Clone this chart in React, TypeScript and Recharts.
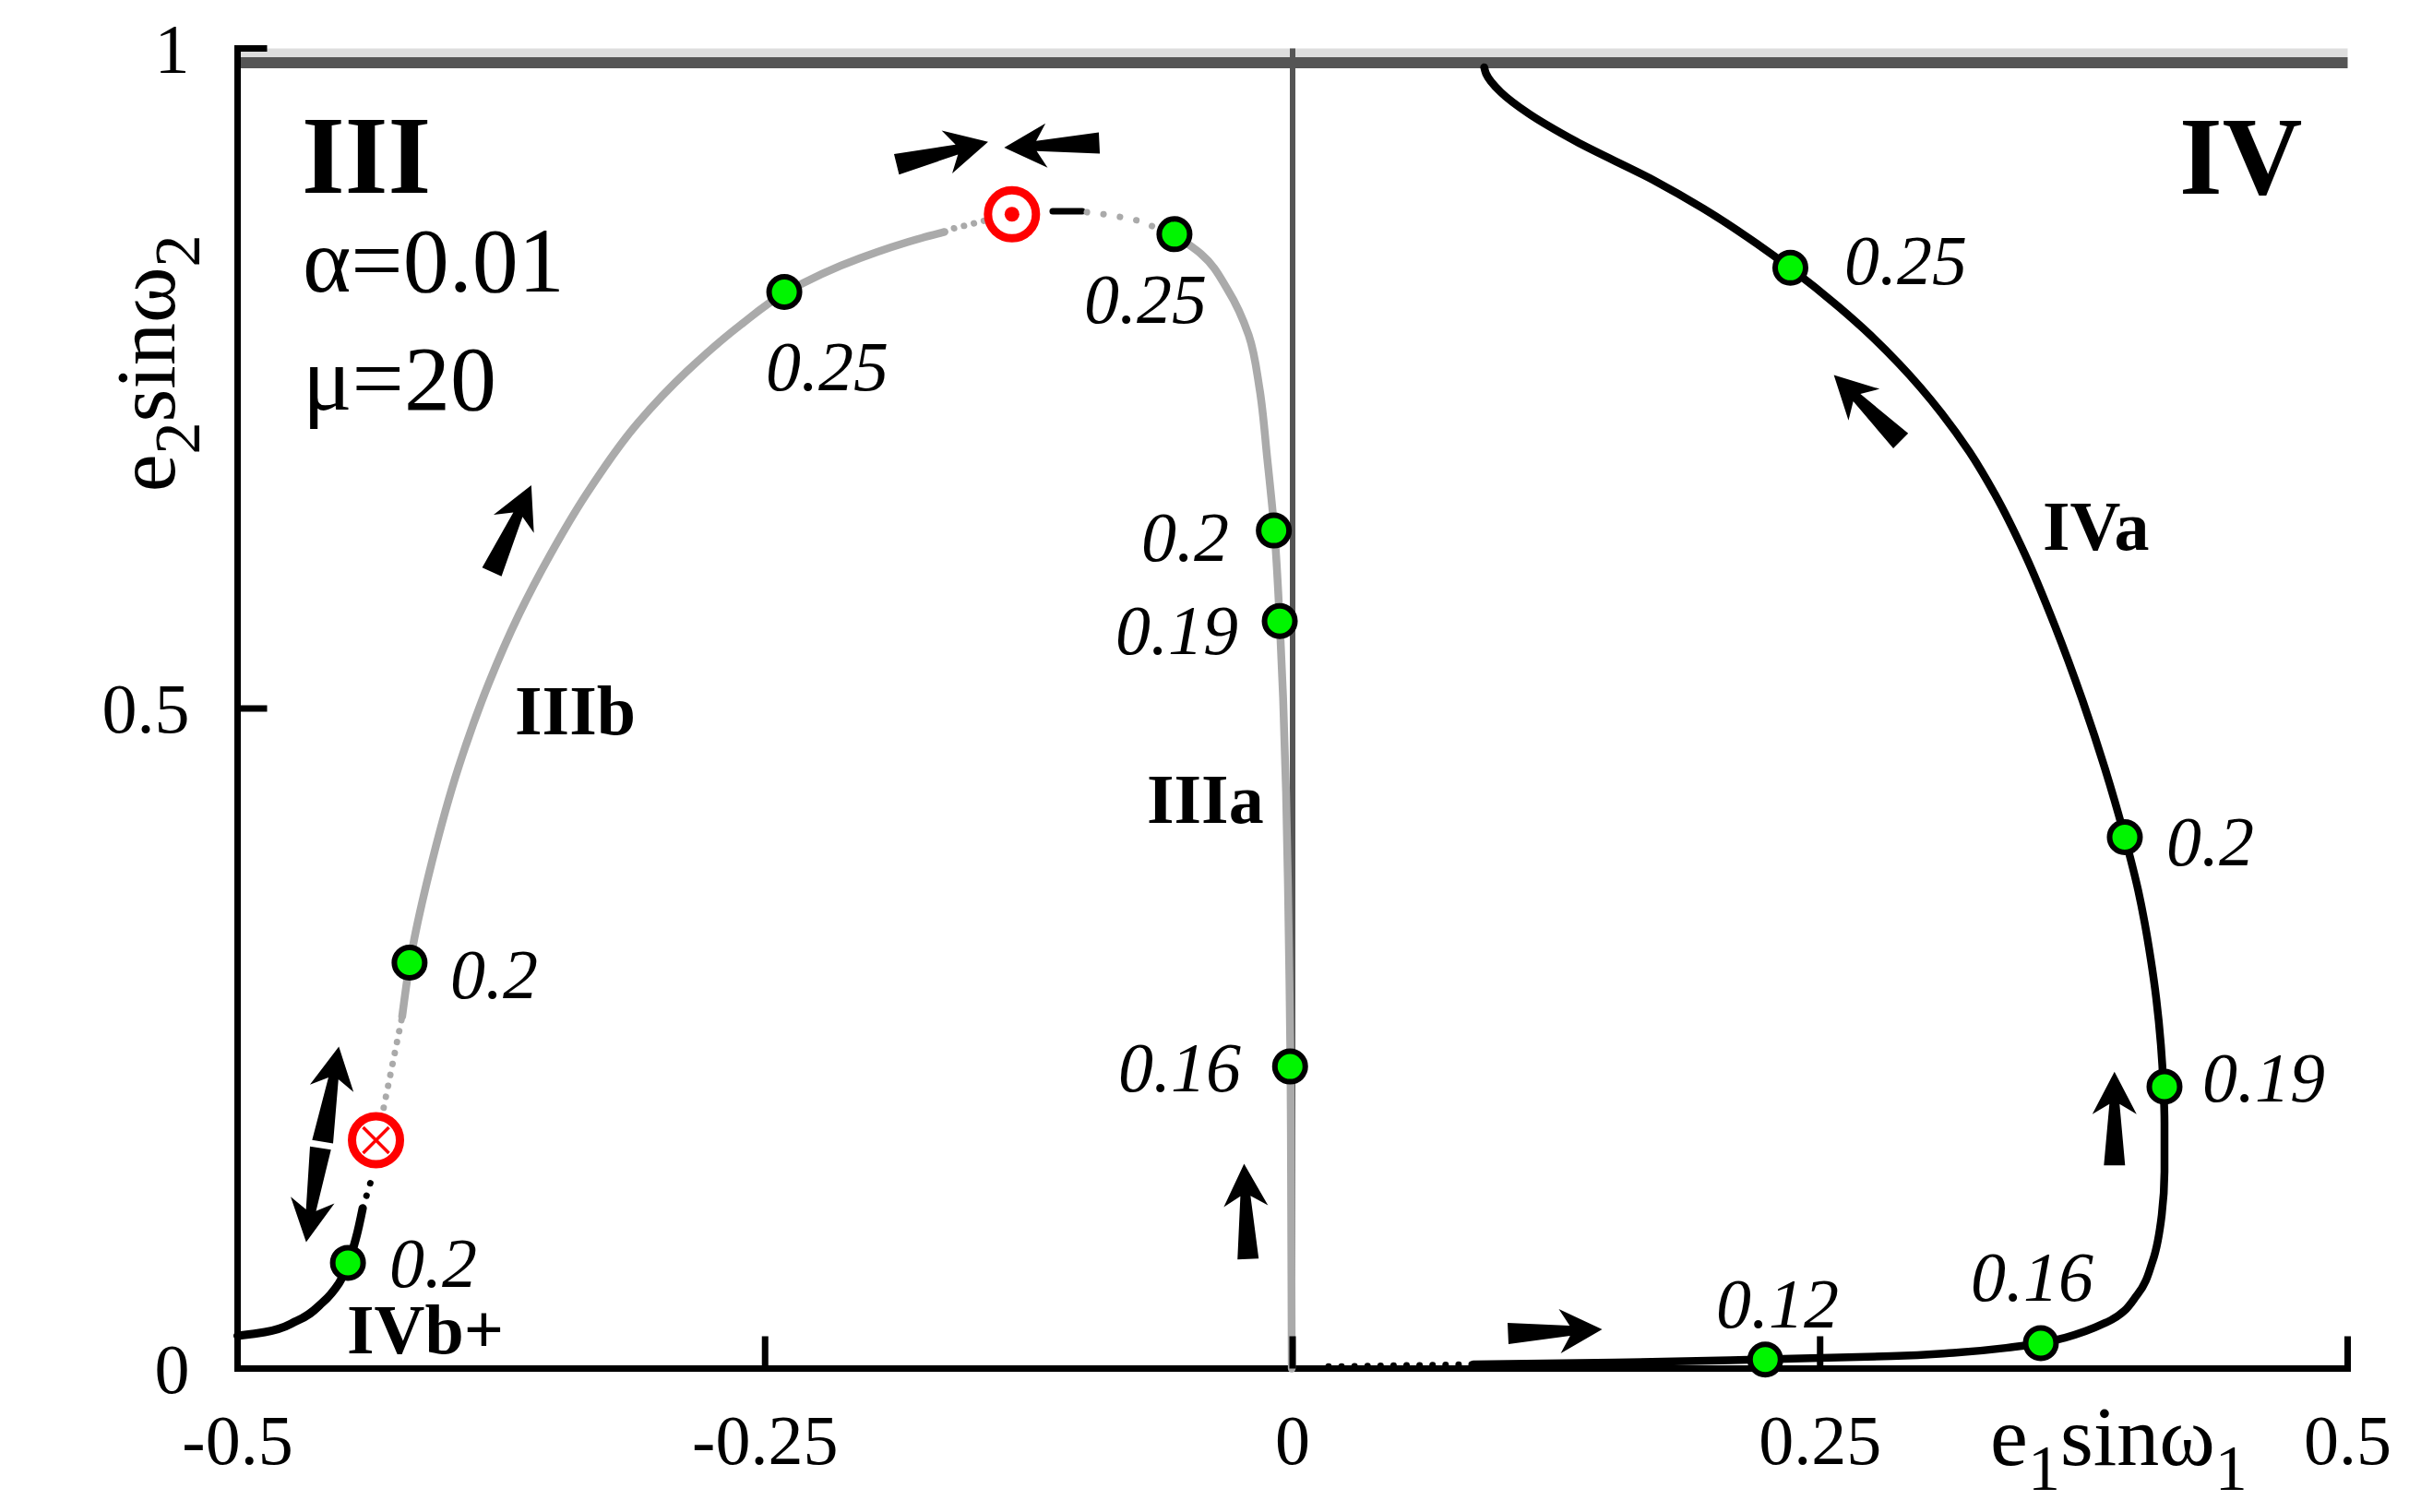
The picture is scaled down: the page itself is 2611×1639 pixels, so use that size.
import React from "react";
import {
  ReferenceArea,
  ReferenceLine,
  Scatter,
  ScatterChart,
  XAxis,
  YAxis,
} from "recharts";

const FONT = "'Liberation Serif', 'Times New Roman', serif";
const GRAY = "#aaaaaa";
const DARK = "#555555";
const LIGHT = "#dddddd";
const GREEN = "#00f500";
const RED = "#ff0000";

const X_DOMAIN = [-0.5, 0.5];
const Y_DOMAIN = [0, 1];
const X_TICKS = [-0.5, -0.25, 0, 0.25, 0.5];
const Y_TICKS = [0, 0.5, 1];

// the e=1 boundary band at the top of the frame
const BAND_LIGHT = [0.9934, 1];
const BAND_DARK = [0.985, 0.9934];
const AXIS_ZERO = 0;

// branches, [e1 sinω1, e2 sinω2], ordered by increasing e2 sinω2
const IVA_START = [[0.017, 0.0015], [0.0857, 0.0031]];
const IVA = [
  [0.0857, 0.0031], [0.1526, 0.0045], [0.2243, 0.007], [0.2838, 0.0094], [0.3131, 0.0119],
  [0.3419, 0.0164], [0.3546, 0.0192], [0.366, 0.0234], [0.3861, 0.0353], [0.4005, 0.0563],
  [0.4076, 0.0815], [0.4119, 0.1164], [0.4132, 0.151], [0.4132, 0.186], [0.4127, 0.2135],
  [0.4115, 0.245], [0.4093, 0.2803], [0.4067, 0.31], [0.4037, 0.3386], [0.4008, 0.3617],
  [0.3944, 0.4025], [0.3849, 0.4549], [0.3741, 0.5072], [0.3614, 0.562], [0.3469, 0.6174],
  [0.3329, 0.6621], [0.3208, 0.6943], [0.3076, 0.7236], [0.2873, 0.7613], [0.274, 0.7826],
  [0.259, 0.804], [0.2362, 0.8333], [0.2199, 0.8522], [0.1945, 0.8788], [0.1708, 0.9004],
  [0.1341, 0.9297], [0.1118, 0.9507], [0.0987, 0.9668], [0.0917, 0.9808], [0.0908, 0.9857],
];
const IVB = [
  [-0.5, 0.0248], [-0.4871, 0.0276], [-0.472, 0.036], [-0.4596, 0.0502], [-0.452, 0.0645],
  [-0.4475, 0.0801], [-0.4439, 0.0987], [-0.4407, 0.1215],
];
const IVB_TAIL = [[-0.4407, 0.1215], [-0.4369, 0.1415]];
const IIIB_LOW = [[-0.4339, 0.1727], [-0.4307, 0.1981], [-0.422, 0.2666]];
const IIIB = [
  [-0.422, 0.2666], [-0.4184, 0.3071], [-0.4077, 0.385], [-0.3954, 0.4549], [-0.381, 0.5189],
  [-0.3666, 0.5713], [-0.3515, 0.6174], [-0.3348, 0.6621], [-0.3105, 0.7159], [-0.2868, 0.7558],
  [-0.2615, 0.7907], [-0.2409, 0.8145], [-0.2049, 0.8412], [-0.1758, 0.8564], [-0.165, 0.861],
];
const IIIB_TOP = [[-0.165, 0.861], [-0.1613, 0.8634], [-0.1325, 0.8749]];
const TOP_DASH = [[-0.1137, 0.8766], [-0.0997, 0.8766]];
const IIIA_TOP = [[-0.0975, 0.8759], [-0.0861, 0.8738], [-0.0735, 0.8697], [-0.056, 0.8588]];
const IIIA = [
  [-0.0004, 0], [-0.0007, 0.1282], [-0.001, 0.2284], [-0.0015, 0.2938], [-0.0022, 0.3651],
  [-0.0031, 0.4364], [-0.0045, 0.5077], [-0.0061, 0.5657], [-0.0087, 0.6356], [-0.012, 0.689],
  [-0.0157, 0.7425], [-0.0208, 0.7827], [-0.0308, 0.8173], [-0.0433, 0.8442], [-0.056, 0.8588],
];

const MARKED = [
  [-0.4477, 0.0801], [-0.4185, 0.3075], [-0.2409, 0.8155], [-0.056, 0.8593], [-0.0089, 0.6348],
  [-0.0061, 0.5662], [-0.0012, 0.2288], [0.2359, 0.8338], [0.3944, 0.4025], [0.4132, 0.2135],
  [0.3546, 0.0192], [0.224, 0.0068],
];
const SADDLE = [[-0.4344, 0.173]];
const CENTER = [[-0.133, 0.8744]];

// [tail x, tail y, tip x, tip y]
const ARROWS = [
  [-0.3795, 0.6034, -0.3608, 0.6691],
  [-0.1877, 0.9122, -0.1443, 0.9292],
  [-0.0916, 0.9284, -0.1367, 0.9249],
  [-0.4597, 0.1718, -0.452, 0.2439],
  [-0.4607, 0.167, -0.4675, 0.0958],
  [-0.0211, 0.083, -0.023, 0.1551],
  [0.2882, 0.7027, 0.2565, 0.7527],
  [0.3895, 0.1539, 0.3895, 0.2249],
  [0.1021, 0.0266, 0.1467, 0.0297],
];

// alpha values next to the green points
const VALUES_RIGHT = [
  [-0.2497, 0.7411, "0.25"], [-0.0988, 0.7921, "0.25"], [-0.3992, 0.2809, "0.2"],
  [-0.4281, 0.0618, "0.2"], [0.2615, 0.8214, "0.25"], [0.4141, 0.3812, "0.2"],
  [0.4311, 0.202, "0.19"], [0.3214, 0.0514, "0.16"], [0.2007, 0.0314, "0.12"],
];
const VALUES_LEFT = [
  [-0.0302, 0.6118, "0.2"], [-0.0258, 0.5414, "0.19"], [-0.0245, 0.21, "0.16"],
];
const REGIONS = [[-0.4696, 0.8909, "III"], [0.4202, 0.8899, "IV"]];
const BRANCHES = [
  [-0.3686, 0.4804, "IIIb"], [-0.0691, 0.4134, "IIIa"], [0.3555, 0.6202, "IVa"],
  [-0.4482, 0.0118, "IVb+"],
];
const PARAMS = [[-0.4692, 0.8159, "α=0.01"], [-0.4692, 0.7264, "μ=20"]];

const pts = (arr: number[][]) => arr.map(([x, y]) => ({ x, y }));
const txt = (arr: any[][]) => arr.map(([x, y, t]) => ({ x, y, t }));

const noShape = () => <g />;
const FRAME = { stroke: "#000", strokeWidth: 7, strokeLinecap: "square" as const };

function BottomTick(p: any) {
  return (
    <g>
      <line x1={p.x} y1={p.y} x2={p.x} y2={p.y - 35} stroke="#000" strokeWidth={7} />
      <text x={p.x} y={p.y + 103.5} textAnchor="middle" fontFamily={FONT} fontSize={76} fill="#000">
        {String(p.payload.value)}
      </text>
    </g>
  );
}
function TopTick(p: any) {
  return <line x1={p.x} y1={p.y} x2={p.x} y2={p.y + 35} stroke="#000" strokeWidth={7} />;
}
function LeftTick(p: any) {
  return (
    <g>
      <line x1={p.x} y1={p.y} x2={p.x + 32} y2={p.y} stroke="#000" strokeWidth={7} />
      <text x={p.x - 52} y={p.y + 26} textAnchor="end" fontFamily={FONT} fontSize={76} fill="#000">
        {String(p.payload.value)}
      </text>
    </g>
  );
}
function RightTick(p: any) {
  return <line x1={p.x} y1={p.y} x2={p.x - 32} y2={p.y} stroke="#000" strokeWidth={7} />;
}

function XTitle(p: any) {
  const { x, y, width } = p.viewBox;
  return (
    <text x={x + width * 0.8306} y={y + 104.5} fontFamily={FONT} fontSize={92} fill="#000">
      e<tspan fontSize={70} dy={27}>1</tspan>
      <tspan dy={-27}>sinω</tspan>
      <tspan fontSize={70} dy={27}>1</tspan>
    </text>
  );
}
function YTitle(p: any) {
  const { x, y, height } = p.viewBox;
  const cx = x + 189;
  const cy = y + height * 0.2386;
  return (
    <text x={cx} y={cy} transform={`rotate(-90, ${cx}, ${cy})`} textAnchor="middle"
      fontFamily={FONT} fontSize={92} fill="#000">
      e<tspan fontSize={70} dy={27}>2</tspan>
      <tspan dy={-27}>sinω</tspan>
      <tspan fontSize={70} dy={27}>2</tspan>
    </text>
  );
}

function Arrow(p: any) {
  const { x1, y1, x2, y2 } = p;
  const dx = x2 - x1;
  const dy = y2 - y1;
  const len = Math.hypot(dx, dy) || 1;
  const ux = dx / len, uy = dy / len, nx = -uy, ny = ux;
  const H = 46, W = 24, N = 11, T = 11.5, S = 5.5;
  const bx = x2 - ux * (H - N), by = y2 - uy * (H - N);
  const hx = x2 - ux * H, hy = y2 - uy * H;
  const poly = [
    [x1 + nx * T, y1 + ny * T], [bx + nx * S, by + ny * S], [hx + nx * W, hy + ny * W],
    [x2, y2], [hx - nx * W, hy - ny * W], [bx - nx * S, by - ny * S], [x1 - nx * T, y1 - ny * T],
  ];
  return <polygon points={poly.map((q) => q.join(",")).join(" ")} fill="#000" />;
}

const greenDot = (p: any) => (
  <circle cx={p.cx} cy={p.cy} r={16.5} fill={GREEN} stroke="#000" strokeWidth={6} />
);
const saddle = (p: any) => {
  const d = 14;
  return (
    <g stroke={RED}>
      <circle cx={p.cx} cy={p.cy} r={26} fill="#fff" strokeWidth={9} />
      <line x1={p.cx - d} y1={p.cy - d} x2={p.cx + d} y2={p.cy + d} strokeWidth={3.5} />
      <line x1={p.cx - d} y1={p.cy + d} x2={p.cx + d} y2={p.cy - d} strokeWidth={3.5} />
    </g>
  );
};
const center = (p: any) => (
  <g>
    <circle cx={p.cx} cy={p.cy} r={26} fill="#fff" stroke={RED} strokeWidth={9} />
    <circle cx={p.cx} cy={p.cy} r={8} fill={RED} />
  </g>
);
const textShape = (style: any) => (p: any) => (
  <text x={p.cx} y={p.cy} fontFamily={FONT} fill="#000" {...style}>
    {p.payload.t}
  </text>
);

const solid = (stroke: string, w = 8.5) => ({
  stroke, strokeWidth: w, strokeLinecap: "round" as const, strokeLinejoin: "round" as const, fill: "none",
});
const dotted = (stroke: string, gap = 13) => ({
  stroke, strokeWidth: 7, strokeLinecap: "round" as const, strokeDasharray: `0.1 ${gap}`, fill: "none",
});

export default function App() {
  return (
    <div style={{ position: "absolute", left: 0, top: 0, background: "#fff" }}>
      <ScatterChart width={2611} height={1639} margin={{ top: 52.5, right: 66.5, bottom: 0, left: 0 }}>
        <XAxis
          type="number" dataKey="x" domain={X_DOMAIN} ticks={X_TICKS} height={155.5}
          tickLine={false} tickSize={0} tickMargin={0} axisLine={FRAME}
          tick={(p: any) => <BottomTick {...p} />} label={{ content: XTitle }}
        />
        <XAxis
          xAxisId="top" orientation="top" type="number" domain={X_DOMAIN} ticks={X_TICKS} height={0}
          tickLine={false} tickSize={0} tickMargin={0} axisLine={FRAME}
          tick={(p: any) => <TopTick {...p} />}
        />
        <YAxis
          type="number" dataKey="y" domain={Y_DOMAIN} ticks={Y_TICKS} width={257.5}
          tickLine={false} tickSize={0} tickMargin={0} axisLine={FRAME}
          tick={(p: any) => <LeftTick {...p} />} label={{ content: YTitle }}
        />
        <YAxis
          yAxisId="right" orientation="right" type="number" domain={Y_DOMAIN} ticks={Y_TICKS} width={0}
          tickLine={false} tickSize={0} tickMargin={0} axisLine={FRAME}
          tick={(p: any) => <RightTick {...p} />}
        />

        <ReferenceArea x1={X_DOMAIN[0]} x2={X_DOMAIN[1]} y1={BAND_LIGHT[0]} y2={BAND_LIGHT[1]}
          fill={LIGHT} fillOpacity={1} stroke="none" />
        <ReferenceArea x1={X_DOMAIN[0]} x2={X_DOMAIN[1]} y1={BAND_DARK[0]} y2={BAND_DARK[1]}
          fill={DARK} fillOpacity={1} stroke="none" />

        <Scatter data={pts(IIIA)} line={solid(GRAY)} lineJointType="monotoneY" shape={noShape} isAnimationActive={false} />
        <ReferenceLine x={AXIS_ZERO} stroke={DARK} strokeWidth={6} />

        <Scatter data={pts(IIIB_LOW)} line={dotted(GRAY, 12)} shape={noShape} isAnimationActive={false} />
        <Scatter data={pts(IIIB)} line={solid(GRAY)} lineJointType="monotoneY" shape={noShape} isAnimationActive={false} />
        <Scatter data={pts(IIIB_TOP)} line={dotted(GRAY, 11)} shape={noShape} isAnimationActive={false} />
        <Scatter data={pts(TOP_DASH)} line={solid("#000", 7)} shape={noShape} isAnimationActive={false} />
        <Scatter data={pts(IIIA_TOP)} line={dotted(GRAY, 18)} shape={noShape} isAnimationActive={false} />
        <Scatter data={pts(IVB)} line={solid("#000", 9)} lineJointType="monotoneY" shape={noShape} isAnimationActive={false} />
        <Scatter data={pts(IVB_TAIL)} line={dotted("#000", 14)} shape={noShape} isAnimationActive={false} />
        <Scatter data={pts(IVA_START)} line={dotted("#000", 14)} shape={noShape} isAnimationActive={false} />
        <Scatter data={pts(IVA)} line={solid("#000")} lineJointType="monotoneY" shape={noShape} isAnimationActive={false} />

        <Scatter data={pts(MARKED)} shape={greenDot} isAnimationActive={false} />
        <Scatter data={pts(SADDLE)} shape={saddle} isAnimationActive={false} />
        <Scatter data={pts(CENTER)} shape={center} isAnimationActive={false} />

        {ARROWS.map((a, i) => (
          <ReferenceLine key={i} segment={[{ x: a[0], y: a[1] }, { x: a[2], y: a[3] }]} shape={Arrow} />
        ))}

        <Scatter data={txt(VALUES_RIGHT)} isAnimationActive={false}
          shape={textShape({ fontSize: 76, fontStyle: "italic" })} />
        <Scatter data={txt(VALUES_LEFT)} isAnimationActive={false}
          shape={textShape({ fontSize: 76, fontStyle: "italic", textAnchor: "end" })} />
        <Scatter data={txt(REGIONS)} isAnimationActive={false}
          shape={textShape({ fontSize: 120, fontWeight: "bold" })} />
        <Scatter data={txt(BRANCHES)} isAnimationActive={false}
          shape={textShape({ fontSize: 76, fontWeight: "bold" })} />
        <Scatter data={txt(PARAMS)} isAnimationActive={false}
          shape={textShape({ fontSize: 100 })} />
      </ScatterChart>
    </div>
  );
}
